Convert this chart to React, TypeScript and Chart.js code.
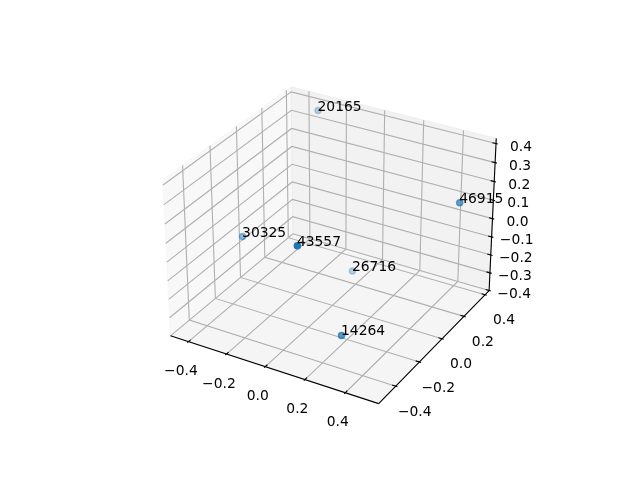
import { useEffect, useRef } from "react";
import { Chart, registerables } from "chart.js";

Chart.register(...registerables);

// Data
const labels = ["20165", "46915", "30325", "43557", "26716", "14264"];
const xs = [-0.349, 0.5005, -0.4037, 0.1108, -0.0207, 0.2301];
const ys = [0.436, 0.2372, -0.1068, -0.4504, 0.205, -0.2953];
const zs = [0.3383, 0.1775, -0.0809, 0.2202, -0.3346, -0.3074];

// Axes
const xTicks = [-0.4, -0.2, 0, 0.2, 0.4];
const yTicks = [-0.4, -0.2, 0, 0.2, 0.4];
const zTicks = [-0.4, -0.3, -0.2, -0.1, 0, 0.1, 0.2, 0.3, 0.4];
const X = [-0.496, 0.562];
const Y = [-0.54, 0.44];
const Z = [-0.4, 0.427];

type V3 = [number, number, number];
const boxScale = (1.02 * 1.8294640721620434 * 25) / 24 / Math.sqrt(41);
const box: V3 = [4 * boxScale, 4 * boxScale, 3 * boxScale];
const DIST = 10;
const el = (30 * Math.PI) / 180;
const az = (-60 * Math.PI) / 180;
const dirV: V3 = [Math.cos(el) * Math.cos(az), Math.cos(el) * Math.sin(az), Math.sin(el)];
const cross = (a: V3, b: V3): V3 => [
  a[1] * b[2] - a[2] * b[1],
  a[2] * b[0] - a[0] * b[2],
  a[0] * b[1] - a[1] * b[0],
];
const dot = (a: V3, b: V3) => a[0] * b[0] + a[1] * b[1] + a[2] * b[2];
const norm = (a: V3): V3 => {
  const n = Math.sqrt(dot(a, a));
  return [a[0] / n, a[1] / n, a[2] / n];
};
const w = norm(dirV);
const u = norm(cross([0, 0, 1], w));
const v = cross(w, u);

function toView(x: number, y: number, z: number): V3 {
  const p: V3 = [
    ((x - X[0]) / (X[1] - X[0])) * box[0] - box[0] / 2,
    ((y - Y[0]) / (Y[1] - Y[0])) * box[1] - box[1] / 2,
    ((z - Z[0]) / (Z[1] - Z[0])) * box[2] - box[2] / 2,
  ];
  return [dot(u, p), dot(v, p), dot(w, p) - DIST];
}
function project(x: number, y: number, z: number) {
  const c = toView(x, y, z);
  return { x: c[0] / -c[2], y: c[1] / -c[2] };
}

const dX = (X[1] - X[0]) / 12;
const dY = (Y[1] - Y[0]) / 12;

const FONT = '13.89px "DejaVu Sans"';
const GRID = "rgb(176,176,176)";
const fmt = (t: number, digits: number) => (t < 0 ? "\u2212" : "") + Math.abs(t).toFixed(digits);

function buildDatasets() {
  const painter: any[] = [];
  const line = (pts: V3[], color: string, width: number, extra: any = {}) =>
    painter.push({
      data: pts.map((p) => project(p[0], p[1], p[2])),
      showLine: true,
      pointRadius: 0,
      borderColor: color,
      borderWidth: width,
      borderCapStyle: "butt",
      tension: 0,
      fill: false,
      ...extra,
    });
  const pane = (pts: V3[], color: string) =>
    line([...pts, pts[0]], color, 1, { fill: "shape", backgroundColor: color });

  pane([[X[0], Y[0], Z[0]], [X[0], Y[1], Z[0]], [X[0], Y[1], Z[1]], [X[0], Y[0], Z[1]]], "rgba(242,242,242,0.5)");
  pane([[X[0], Y[1], Z[0]], [X[1], Y[1], Z[0]], [X[1], Y[1], Z[1]], [X[0], Y[1], Z[1]]], "rgba(230,230,230,0.5)");
  pane([[X[0], Y[0], Z[0]], [X[1], Y[0], Z[0]], [X[1], Y[1], Z[0]], [X[0], Y[1], Z[0]]], "rgba(236,236,236,0.5)");

  xTicks.forEach((t) => line([[t, Y[0], Z[0]], [t, Y[1], Z[0]], [t, Y[1], Z[1]]], GRID, 1.11));
  yTicks.forEach((t) => line([[X[1], t, Z[0]], [X[0], t, Z[0]], [X[0], t, Z[1]]], GRID, 1.11));
  zTicks.forEach((t) => line([[X[0], Y[0], t], [X[0], Y[1], t], [X[1], Y[1], t]], GRID, 1.11));

  line([[X[0], Y[0], Z[0]], [X[1], Y[0], Z[0]]], "#000", 1.11);
  line([[X[1], Y[0], Z[0]], [X[1], Y[1], Z[0]]], "#000", 1.11);
  line([[X[1], Y[1], Z[0]], [X[1], Y[1], Z[1]]], "#000", 1.11);

  xTicks.forEach((t) => line([[t, Y[0] - 0.1 * dY, Z[0]], [t, Y[0] + 0.2 * dY, Z[0]]], "#000", 1.11));
  yTicks.forEach((t) => line([[X[1] + 0.1 * dX, t, Z[0]], [X[1] - 0.2 * dX, t, Z[0]]], "#000", 1.11));
  zTicks.forEach((t) => line([[X[1] + 0.1 * dX, Y[1], t], [X[1] - 0.2 * dX, Y[1], t]], "#000", 1.11));

  // depth shading from data
  const depths = xs.map((x, i) => toView(x, ys[i], zs[i])[2]);
  const dMin = Math.min(...depths);
  const dMax = Math.max(...depths);
  const colors = depths.map((d) => `rgba(31,119,180,${0.3 + (0.7 * (d - dMin)) / (dMax - dMin)})`);
  painter.push({
    data: xs.map((x, i) => project(x, ys[i], zs[i])),
    showLine: false,
    pointRadius: 3.1,
    pointBorderWidth: 1.39,
    pointBackgroundColor: colors,
    pointBorderColor: colors,
  });
  return painter.reverse();
}

const textPlugin = {
  id: "text3d",
  afterDatasetsDraw(chart: any) {
    const { ctx, scales } = chart;
    const put = (s: string, p: { x: number; y: number }, ox: number, oy: number, align: CanvasTextAlign, base: CanvasTextBaseline) => {
      ctx.textAlign = align;
      ctx.textBaseline = base;
      ctx.fillText(s, scales.x.getPixelForValue(p.x) + ox, scales.y.getPixelForValue(p.y) + oy);
    };
    ctx.save();
    ctx.font = FONT;
    ctx.fillStyle = "#000";
    xTicks.forEach((t) => put(fmt(t, 1), project(t, Y[0], Z[0]), -7.5, 30, "center", "middle"));
    yTicks.forEach((t) => put(fmt(t, 1), project(X[1], t, Z[0]), 19, 26, "center", "middle"));
    zTicks.forEach((t) => put(fmt(t, 1), project(X[1], Y[1], t), 25, 3.5, "center", "middle"));
    labels.forEach((s, i) => put(s, project(xs[i], ys[i], zs[i]), -0.5, 0, "left", "alphabetic"));
    ctx.restore();
  },
};

// figure mapping of matplotlib's 3D axes
const AX_LEFT = 143.2;
const AX_TOP = 480 - 52.8 - 369.6;
const AX_SIDE = 369.6;
const VIEW = [-0.095, 0.09];
const perPx = (VIEW[1] - VIEW[0]) / AX_SIDE;

export default function App() {
  const ref = useRef<HTMLCanvasElement>(null);
  useEffect(() => {
    document.body.style.margin = "0";
    const chart = new Chart(ref.current!, {
      type: "scatter",
      data: { datasets: buildDatasets() },
      options: {
        responsive: false,
        animation: false,
        layout: { padding: 0 },
        plugins: { legend: { display: false }, tooltip: { enabled: false } },
        scales: {
          x: { display: false, type: "linear", min: VIEW[0] - AX_LEFT * perPx, max: VIEW[0] + (640 - AX_LEFT) * perPx },
          y: { display: false, type: "linear", max: VIEW[1] + AX_TOP * perPx, min: VIEW[1] - (480 - AX_TOP) * perPx },
        },
      },
      plugins: [textPlugin],
    } as any);
    return () => chart.destroy();
  }, []);
  return <canvas ref={ref} width={640} height={480} style={{ display: "block" }} />;
}
